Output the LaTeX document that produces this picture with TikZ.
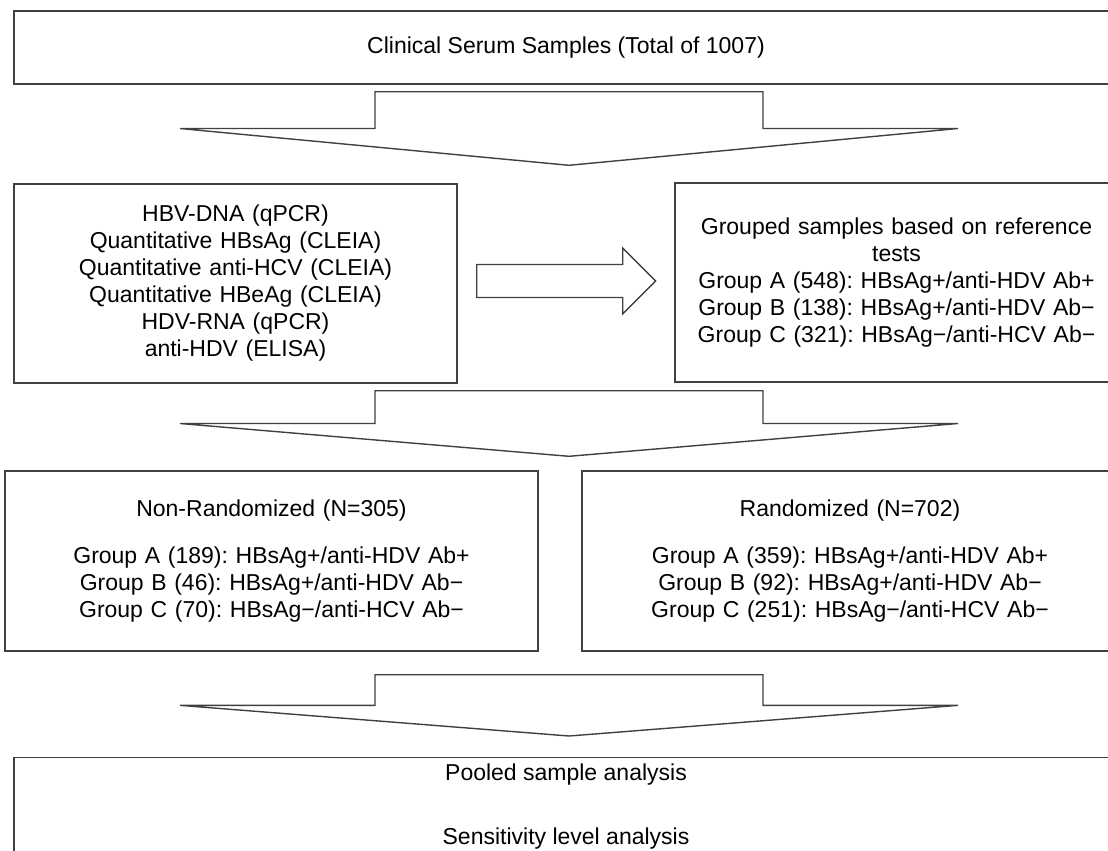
\documentclass[tikz,border=0pt]{standalone}
\usepackage{fontspec}
\setmainfont{Liberation Sans}
\usetikzlibrary{calc}
\frenchspacing

\begin{document}
\begin{tikzpicture}[x=1pt, y=-1pt,
   stagebox/.style={draw=black!75, line width=1.4pt, align=center, inner sep=0pt,
     font=\fontsize{23}{27}\selectfont},
   fatarrow/.style={draw=black!75, line width=1.4pt}]
\useasboundingbox (0,0) rectangle (1108,851);
\clip (0,0) rectangle (1108,851);

\node[stagebox, minimum width=1104pt, minimum height=73pt] (samples) at (566,47.5)
  {Clinical Serum Samples (Total of 1007)};
\node[stagebox, minimum width=443pt, minimum height=199pt, text width=425pt] (tests) at (235.5,283.5)
  {HBV-DNA (qPCR)\\Quantitative HBsAg (CLEIA)\\Quantitative anti-HCV (CLEIA)\\
   Quantitative HBeAg (CLEIA)\\HDV-RNA (qPCR)\\anti-HDV (ELISA)};
\node[stagebox, minimum width=443pt, minimum height=199pt, text width=425pt] (groups) at (896.5,282.5)
  {Grouped samples based on reference\\tests\\
   Group A (548): HBsAg+/anti-HDV Ab+\\Group B (138): HBsAg+/anti-HDV Ab−\\
   Group C (321): HBsAg−/anti-HCV Ab−};
\node[stagebox, minimum width=533pt, minimum height=180pt, text width=515pt] (nonrand) at (271.5,561)
  {Non-Randomized (N=305)\\[20pt]
   Group A (189): HBsAg+/anti-HDV Ab+\\Group B (46): HBsAg+/anti-HDV Ab−\\
   Group C (70): HBsAg−/anti-HCV Ab−};
\node[stagebox, minimum width=536pt, minimum height=180pt, text width=515pt] (rand) at (850,561)
  {Randomized (N=702)\\[20pt]
   Group A (359): HBsAg+/anti-HDV Ab+\\Group B (92): HBsAg+/anti-HDV Ab−\\
   Group C (251): HBsAg−/anti-HCV Ab−};
\node[stagebox, anchor=north] (pooled) at (566,757)
  {\parbox[c][180pt][t]{1104pt}{\centering\vspace*{6pt}Pooled sample analysis\\[37pt]
   Sensitivity level analysis}};

\coordinate (a1) at ($(samples.south)+(3,7)$);
\coordinate (b1) at ($(a1 |- tests.north)+(0,-18)$);
\coordinate (a2) at ($(a1 |- tests.south)+(0,7)$);
\coordinate (b2) at ($(a1 |- nonrand.north)+(0,-14)$);
\coordinate (a3) at ($(a1 |- nonrand.south)+(0,23)$);
\coordinate (b3) at ($(a1 |- pooled.north)+(0,-21)$);

\foreach \t/\b in {a1/b1, a2/b2, a3/b3}
  \draw[fatarrow] ($(\t)+(-194,0)$) -- ($(\t)+(194,0)$) -- ($(\t)!.5!(\b)+(194,0)$)
    -- ($(\t)!.5!(\b)+(389,0)$) -- (\b) -- ($(\t)!.5!(\b)+(-389,0)$)
    -- ($(\t)!.5!(\b)+(-194,0)$) -- cycle;

\draw[fatarrow] ($(tests.east)+(19,-19)$) -- ++(146,0) -- ++(0,-16.5) -- ++(33,33)
  -- ++(-33,33) -- ++(0,-16.5) -- ++(-146,0) -- cycle;
\end{tikzpicture}
\end{document}
